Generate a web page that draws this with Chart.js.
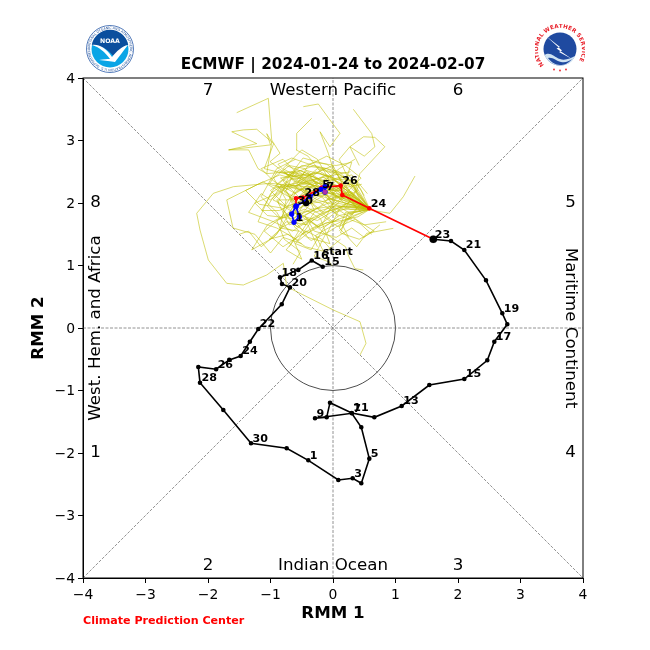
<!DOCTYPE html>
<html>
<head>
<meta charset="utf-8">
<title>ECMWF MJO phase diagram</title>
<script src="https://cdn.jsdelivr.net/npm/chart.js@4"></script>
<style>
  html, body { margin: 0; padding: 0; background: #fff; }
  #wrap { position: relative; width: 650px; height: 650px; }
  #logo_noaa, #logo_nws { position: absolute; top: 24px; width: 50px; height: 50px; }
  #logo_noaa { left: 85px; }
  #logo_nws { left: 535px; }
</style>
</head>
<body>
<div id="wrap">
  <canvas id="mjo_chart" width="650" height="650"></canvas>

  <svg id="logo_noaa" viewBox="0 0 50 50">
    <defs><path id="noaa_ring" d="M25 25 m-20 0 a20 20 0 1 1 40 0 a20 20 0 1 1 -40 0"/></defs>
    <circle cx="25" cy="25" r="23.5" fill="#fff" stroke="#2a5aa8" stroke-width="0.8"/>
    <text font-family="DejaVu Sans" font-size="3.3" fill="#1f4f9a"><textPath href="#noaa_ring">NATIONAL OCEANIC AND ATMOSPHERIC ADMINISTRATION U.S. DEPARTMENT OF COMMERCE</textPath></text>
    <circle cx="25" cy="25" r="18.5" fill="#0aa5e6"/>
    <path d="M6.8 21 A18.5 18.5 0 0 1 43.2 21 C38 22 33 27 29 33 C26 29 23 26 19 24 C14 22 10 21 6.8 21Z" fill="#0b4f9e"/>
    <path d="M7 21 C14 20 21 24 27 33 C32 27 37 22 43 21 C38 27 34 33 30 38 C26 37 20 37 14 36 C19 35 22 35 25 35 C20 28 14 23 7 21Z" fill="#fff"/>
    <text x="25" y="19" text-anchor="middle" font-family="DejaVu Sans" font-weight="bold" font-size="6.2" fill="#fff">NOAA</text>
  </svg>

  <svg id="logo_nws" viewBox="0 0 50 50">
    <defs><path id="nws_ring" d="M9 41 A22 22 0 1 1 41 41"/></defs>
    <circle cx="25" cy="25" r="24.5" fill="#fff"/>
    <text font-family="DejaVu Sans" font-weight="bold" font-size="5.6" letter-spacing="0.15" fill="#e8202a"><textPath href="#nws_ring" startOffset="0">NATIONAL WEATHER SERVICE</textPath></text>
    <circle cx="25" cy="25" r="16.5" fill="#1f4aa0"/>
    <path d="M11 12 L25 23 L21.5 24.5 L37 35 L24 28 L27 26.5 Z" fill="#fff"/>
    <path d="M9.5 31 C15 27 19 33 25 35 C30 37 36 34 40 32 C37 39 31 42 25 41.5 C18 41.5 12 37 9.5 31Z" fill="#cfe3f2"/>
    <path d="M13 34 C18 33 21 37 26 38 C31 39 34 37 37 35 C33 40 29 41 25 41 C20 41 16 38 13 34Z" fill="#1f4aa0"/>
    <circle cx="19" cy="45.5" r="0.9" fill="#e8202a"/><circle cx="25" cy="46.5" r="0.9" fill="#e8202a"/><circle cx="31" cy="45.5" r="0.9" fill="#e8202a"/>
  </svg>
</div>

<script>
///////////   VARIABLES  /////////////////

const chart_title = "ECMWF | 2024-01-24 to 2024-02-07";
const tick_values = [-4, -3, -2, -1, 0, 1, 2, 3, 4];

// observed track, 15 Dec to 23 Jan
const obs_x = [-0.165,-0.34,-0.555,-0.848,-0.816,-0.688,-0.82,-1.195,-1.33,-1.477,-1.66,-1.87,-2.155,-2.128,-1.755,-1.312,-0.741,-0.395,0.085,0.315,0.453,0.581,0.453,0.3,-0.288,-0.101,-0.048,0.3,0.661,1.099,1.541,2.101,2.469,2.581,2.789,2.709,2.448,2.101,1.888,1.605];
const obs_y = [0.98,1.08,0.93,0.81,0.704,0.65,0.38,-0.016,-0.22,-0.448,-0.51,-0.66,-0.624,-0.875,-1.312,-1.845,-1.925,-2.117,-2.432,-2.405,-2.485,-2.09,-1.589,-1.365,-1.445,-1.429,-1.195,-1.36,-1.429,-1.248,-0.912,-0.816,-0.517,-0.219,0.059,0.235,0.763,1.248,1.392,1.419];
const obs_labels = ["15","16","","18","","20","","22","","24","","26","","28","","30","","1","","3","","5","","7","9","","","11","","13","","15","","17","","19","","21","","23"];

// forecast ensemble mean, first week red then second week blue
const red_x = [1.605,0.581,0.149,0.123,-0.181,-0.48,-0.592,-0.592];
const red_y = [1.419,1.915,2.128,2.277,2.245,2.085,2.075,1.952];
const red_labels = ["","24","","26","","28","","30"];
const blue_x = [-0.592,-0.661,-0.624,-0.539,-0.592,-0.368,-0.197,-0.128,-0.128];
const blue_y = [1.952,1.824,1.691,1.781,1.941,2.101,2.219,2.261,2.176];
const blue_labels = ["","","1","","","","5","","7"];
const marker_x = [-0.43];
const marker_y = [2.0];
const end_x = [-0.128];
const end_y = [2.176];

// ensemble members
const member01 = [[0.59,1.9],[0.1,2.1],[-0.3,2.25],[-1.008,2.315],[-1.595,2.261],[-1.915,2.155],[-2.181,1.835],[-2.128,1.568],[-1.995,1.088],[-1.701,0.715],[-1.435,0.688],[-1.061,0.848],[-0.795,1.035],[-0.741,0.661],[-0.368,0.475],[0.005,0.288],[0.432,0.101],[0.528,-0.245],[0.432,-0.432]];
const member02 = [[0.59,1.9],[0.05,2.2],[-0.6,2.35],[-1.008,2.661],[-0.848,2.795],[-0.981,3.008],[-1.035,3.675],[-1.541,3.445]];
const member03 = [[0.59,1.9],[0.15,2.3],[-0.2,2.5],[-0.4,2.75],[-0.59,2.85],[-0.581,3.115],[-0.341,3.355]];
const member04 = [[0.59,1.9],[0.2,2.25],[0.0,2.55],[-0.075,2.795],[-0.208,3.141],[-0.048,2.9],[0.112,3.115],[-0.048,3.328],[-0.235,3.584],[-0.475,3.541]];
const member05 = [[0.59,1.9],[0.35,2.2],[0.43,2.47],[0.83,2.9],[0.67,3.05],[0.49,3.06],[0.27,2.9],[0.42,2.6]];
const member06 = [[1.312,2.432],[1.125,2.101],[0.912,1.835],[0.592,1.888],[0.2,2.05],[-0.1,2.3],[-0.4,2.5]];
const member07 = [[0.59,1.9],[0.2,1.85],[0.1,1.6],[0.379,1.301],[0.539,1.515],[0.965,1.595]];
const member08 = [[0.59,1.9],[0.1,1.9],[-0.1,1.5],[0.2,1.3],[0.25,1.15],[0.35,0.95],[0.485,0.928]];
const member09 = [[0.59,1.9],[0.0,2.05],[-0.5,2.4],[-1.1,2.55],[-0.95,2.95],[-1.22,3.18],[-1.43,3.17],[-1.62,3.14],[-1.22,2.95],[-1.67,2.85],[-1.35,2.85],[-1.2,2.55],[-1.06,2.47]];
const member10 = [[0.59,1.9],[0.05,2.0],[-0.35,2.3],[-0.85,2.45],[-1.2,2.3],[-1.7,2.05],[-1.6,1.6],[-1.25,1.5],[-1.0,1.2],[-0.8,1.45],[-0.5,1.35]];
const member11 = [[0.59,1.9],[0.15,1.95],[-0.25,1.8],[-0.65,1.55],[-0.95,1.7],[-1.35,1.85],[-1.15,2.15],[-1.0,2.05],[-0.7,2.3],[-0.3,2.15]];
const member12 = [[0.59,1.9],[0.2,2.35],[0.3,2.65],[0.05,2.6],[-0.3,2.65],[-0.6,2.55],[-0.75,2.2],[-0.55,1.85],[-0.2,1.6],[0.1,1.75]];
const member13 = [[0.59,1.9],[0.1,2.2],[-0.25,2.1],[-0.55,1.9],[-0.85,1.75],[-1.05,1.95],[-0.85,2.25],[-0.45,2.3],[-0.1,2.45],[0.25,2.3]];
const member14 = [[0.59,1.9],[0.25,2.15],[-0.05,1.95],[-0.35,1.7],[-0.6,1.35],[-0.35,1.25],[-0.15,1.6],[0.1,1.8],[0.5,1.65],[0.85,1.7]];
const member15 = [[0.59,1.9],[0.3,2.05],[0.05,2.35],[-0.2,2.2],[-0.45,2.55],[-0.7,2.6],[-0.95,2.4],[-0.75,2.05],[-0.85,1.6],[-0.55,1.55],[-0.7,1.3]];
const member16 = [[0.59,1.9],[0.2,1.95],[-0.15,1.85],[-0.4,2.05],[-0.75,1.95],[-1.0,2.2],[-0.7,2.45],[-0.3,2.6],[0.1,2.5],[0.4,2.2],[0.1,2.05]];
const member17 = [[0.59,1.9],[0.35,1.85],[0.0,1.7],[-0.3,1.95],[-0.5,2.2],[-0.85,2.3],[-0.6,2.0],[-0.9,1.5],[-1.15,1.3],[-1.35,1.55],[-1.5,1.5]];
const member18 = [[0.59,1.9],[0.12,2.28],[-0.15,2.55],[-0.45,2.35],[-0.8,2.55],[-0.5,2.85],[-0.25,2.7],[-0.05,2.35],[0.3,2.45],[0.55,2.15]];
const member19 = [[0.59,1.9],[0.3,1.95],[0.05,1.85],[-0.1,2.15],[-0.35,2.0],[-0.6,1.7],[-0.4,1.45],[-0.05,1.35],[-0.2,1.75],[-0.45,1.9],[-0.75,1.8]];
const member20 = [[0.59,1.9],[0.18,2.15],[-0.1,2.4],[-0.5,2.15],[-0.7,1.85],[-1.05,1.65],[-1.3,1.25],[-0.95,1.45],[-0.75,1.7],[-0.4,1.65],[-0.25,1.3]];
const member21 = [[0.59,1.9],[0.28,2.3],[0.0,2.2],[-0.3,2.35],[-0.6,2.15],[-0.95,2.35],[-1.15,2.55],[-0.8,2.7],[-0.55,2.45],[-0.2,2.3],[0.1,2.55],[0.35,2.7]];
const member22 = [[0.59,1.9],[0.1,1.8],[-0.2,2.0],[-0.55,2.1],[-0.8,2.35],[-0.5,2.6],[-0.1,2.55],[0.3,2.35],[0.45,2.0],[0.15,1.65],[0.25,1.45]];
const member23 = [[0.59,1.9],[0.25,1.75],[-0.05,1.55],[-0.35,1.4],[-0.6,1.6],[-0.8,1.9],[-0.55,2.3],[-0.25,2.4],[0.05,2.1],[-0.15,1.7],[-0.5,1.5]];
const member24 = [[0.59,1.9],[0.15,2.05],[-0.2,2.3],[-0.55,2.5],[-0.9,2.15],[-1.25,2.0],[-1.05,1.8],[-0.65,1.75],[-0.35,1.9],[0.0,1.95],[0.3,1.75]];
const member25 = [[0.59,1.9],[0.32,2.12],[0.08,2.45],[-0.25,2.55],[-0.55,2.3],[-0.35,2.05],[-0.65,1.95],[-0.45,1.65],[-0.1,1.85],[0.2,2.1],[0.45,1.85]];
const member26 = [[0.59,1.9],[0.05,1.95],[-0.3,1.85],[-0.5,1.55],[-0.75,1.25],[-0.5,1.1],[-0.65,1.45],[-0.9,1.85],[-1.15,2.1],[-0.9,2.55],[-0.6,2.7]];
const member27 = [[0.59,1.9],[0.22,2.08],[-0.12,2.12],[-0.42,2.28],[-0.7,2.1],[-0.55,1.75],[-0.2,1.95],[0.15,2.3],[0.0,2.6],[-0.35,2.45],[-0.75,2.6]];
const member28 = [[0.59,1.9],[0.38,2.0],[0.12,2.1],[-0.18,1.95],[-0.45,1.8],[-0.3,1.55],[0.05,1.45],[0.3,1.6],[0.5,1.45],[0.75,1.65]];
const member29 = [[0.59,1.9],[0.14,2.2],[-0.15,2.2],[-0.38,2.42],[-0.68,2.38],[-1.0,2.15],[-1.2,1.7],[-0.9,1.6],[-0.55,1.4],[-0.3,1.6],[-0.05,1.7]];
const member30 = [[0.59,1.9],[0.33,1.8],[0.08,1.95],[-0.25,2.05],[-0.6,2.25],[-0.4,2.6],[-0.1,2.75],[0.2,2.6],[0.45,2.4],[0.2,2.15],[-0.1,2.05]];
const member31 = [[0.59,1.9],[0.24,2.2],[0.02,2.3],[-0.32,2.2],[-0.62,2.05],[-0.9,2.05],[-0.7,1.65],[-0.4,1.75],[-0.12,1.5],[-0.3,1.15],[-0.05,1.05]];
const member32 = [[0.59,1.9],[0.18,2.0],[-0.08,2.25],[-0.36,2.12],[-0.52,1.92],[-0.78,2.18],[-0.42,2.52],[-0.05,2.42],[0.22,2.2],[0.38,1.9],[0.1,1.55]];
const member33 = [[0.59,1.9],[0.42,2.15],[0.18,2.4],[-0.1,2.62],[-0.48,2.72],[-0.72,2.4],[-0.88,2.0],[-0.58,1.82],[-0.25,1.72],[0.02,1.88],[0.32,2.05]];
const member34 = [[0.59,1.9],[0.28,1.9],[-0.02,2.0],[-0.28,2.28],[-0.58,2.2],[-0.82,1.78],[-1.1,1.55],[-0.8,1.3],[-0.42,1.55],[-0.18,1.42],[0.02,1.2]];
const member35 = [[0.59,1.9],[0.36,2.28],[0.1,2.32],[-0.22,2.48],[-0.62,2.42],[-0.88,2.52],[-1.02,2.3],[-0.72,2.22],[-0.38,2.36],[-0.02,2.44],[0.28,2.5]];
const member36 = [[0.59,1.9],[0.4,2.05],[0.16,2.18],[-0.14,2.36],[-0.46,2.46],[-0.84,2.4],[-0.66,2.28],[-0.28,2.5],[0.06,2.38],[0.36,2.36],[0.5,2.12]];
const member37 = [[0.59,1.9],[0.34,1.96],[0.12,2.02],[-0.1,2.08],[-0.4,2.18],[-0.72,2.28],[-0.96,2.05],[-0.7,1.92],[-0.42,2.08],[-0.12,2.18],[0.22,2.02]];
const member38 = [[0.59,1.9],[0.3,2.18],[0.04,2.12],[-0.26,2.26],[-0.52,2.38],[-0.78,2.48],[-0.52,2.52],[-0.16,2.34],[0.14,2.42],[0.42,2.28],[0.2,1.92]];
const member39 = [[0.59,1.9],[0.42,1.9],[0.2,2.1],[-0.06,2.3],[-0.34,2.32],[-0.66,2.5],[-0.92,2.28],[-0.6,2.08],[-0.24,2.24],[0.1,2.28],[0.34,2.12]];
const member40 = [[0.59,1.9],[0.26,2.02],[0.0,1.82],[-0.24,1.62],[-0.5,1.78],[-0.8,1.62],[-1.02,1.42],[-0.72,1.5],[-0.44,1.3],[-0.12,1.22],[0.12,1.42]];
const member41 = [[0.59,1.9],[0.4,1.78],[0.14,1.72],[-0.12,1.68],[-0.4,1.52],[-0.66,1.68],[-0.48,1.96],[-0.2,1.82],[0.08,1.62],[0.36,1.74],[0.62,1.5]];
const member42 = [[0.59,1.9],[0.16,2.12],[-0.18,2.02],[-0.46,1.98],[-0.74,2.12],[-1.12,2.34],[-1.4,2.2],[-1.18,1.98],[-0.82,1.92],[-0.58,1.62],[-0.3,1.78]];
const member43 = [[0.59,1.9],[0.44,2.22],[0.22,2.48],[-0.04,2.5],[-0.38,2.62],[-0.66,2.72],[-0.88,2.62],[-0.62,2.34],[-0.3,2.28],[0.06,2.22],[0.46,2.3]];
const member44 = [[0.59,1.9],[0.36,2.08],[0.08,2.26],[-0.2,2.14],[-0.5,2.04],[-0.86,1.88],[-1.14,1.88],[-0.94,2.24],[-0.6,2.32],[-0.16,2.08],[0.08,1.78]];
const member45 = [[0.59,1.9],[0.32,2.02],[0.1,2.22],[-0.16,2.42],[-0.44,2.2],[-0.3,1.88],[-0.6,1.84],[-0.9,1.72],[-0.78,1.42],[-0.52,1.22],[-0.64,1.02]];
const member46 = [[0.59,1.9],[0.25,2.38],[0.1,2.7],[0.27,2.9],[0.5,2.75],[0.67,2.9],[0.62,3.11],[0.325,3.5]];
const member47 = [[0.59,1.9],[0.3,2.12],[-0.02,2.16],[-0.3,2.42],[-0.7,2.5],[-1.06,2.47],[-0.98,2.98],[-1.06,3.11],[-1.0,2.93],[-1.67,2.85]];
const member48 = [[0.59,1.9],[0.24,1.84],[0.12,1.52],[0.42,1.42],[0.66,1.55],[0.3,1.78],[-0.04,1.62],[-0.28,1.48],[-0.1,1.12],[-0.02,1.0]];
const ensemble_members = [member01,member02,member03,member04,member05,member06,member07,member08,member09,member10,member11,member12,member13,member14,member15,member16,member17,member18,member19,member20,member21,member22,member23,member24,member25,member26,member27,member28,member29,member30,member31,member32,member33,member34,member35,member36,member37,member38,member39,member40,member41,member42,member43,member44,member45,member46,member47,member48];

// phase numbers and region names, at data coordinates
const phase_names = ["1","2","3","4","5","6","7","8"];
const phase_x = [-3.8,-2,2,3.8,3.8,2,-2,-3.8];
const phase_y = [-2,-3.8,-3.8,-2,2,3.8,3.8,2];

const diagonal_a = [[-4,-4],[4,4]];
const diagonal_b = [[-4,4],[4,-4]];
const axis_h = [[-4,0],[4,0]];
const axis_v = [[0,-4],[0,4]];


///////////   HELPERS  /////////////////

function toPoints(xs, ys) {
  return xs.map((x, i) => ({ x: x, y: ys[i] }));
}

function pairsToPoints(pairs) {
  return pairs.map(p => ({ x: p[0], y: p[1] }));
}

function guideLine(pairs) {
  return {
    data: pairsToPoints(pairs),
    showLine: true,
    borderColor: "#777",
    borderWidth: 0.8,
    borderDash: [3, 1.5],
    pointRadius: 0,
    order: 10
  };
}

function fmtTick(v) {
  return v < 0 ? "\u2212" + Math.abs(v) : String(v);
}


///////////   PLUGIN: circle, frame, texts  /////////////////

const mjoDecor = {
  id: "mjoDecor",
  beforeDatasetsDraw(chart) {
    const { ctx, scales: { x, y } } = chart;
    const cx = x.getPixelForValue(0);
    const cy = y.getPixelForValue(0);
    const r = x.getPixelForValue(1) - cx;
    ctx.save();
    ctx.strokeStyle = "#000";
    ctx.lineWidth = 0.7;
    ctx.beginPath();
    ctx.arc(cx, cy, r, 0, Math.PI * 2);
    ctx.stroke();
    ctx.restore();
  },
  afterDraw(chart) {
    const { ctx, chartArea: a, scales: { x, y } } = chart;
    ctx.save();

    // frame
    ctx.strokeStyle = "#000";
    ctx.lineWidth = 1;
    ctx.strokeRect(a.left, a.top, a.right - a.left, a.bottom - a.top);

    // phases
    ctx.fillStyle = "#000";
    ctx.font = "16.67px 'DejaVu Sans'";
    ctx.textAlign = "center";
    ctx.textBaseline = "middle";
    phase_names.forEach((name, i) => {
      ctx.fillText(name, x.getPixelForValue(phase_x[i]), y.getPixelForValue(phase_y[i]));
    });
    ctx.fillText("Western Pacific", x.getPixelForValue(0), y.getPixelForValue(3.8));
    ctx.fillText("Indian Ocean", x.getPixelForValue(0), y.getPixelForValue(-3.8));

    ctx.save();
    ctx.translate(x.getPixelForValue(-3.8), y.getPixelForValue(0));
    ctx.rotate(-Math.PI / 2);
    ctx.fillText("West. Hem. and Africa", 0, 0);
    ctx.restore();

    ctx.save();
    ctx.translate(x.getPixelForValue(3.8), y.getPixelForValue(0));
    ctx.rotate(Math.PI / 2);
    ctx.fillText("Maritime Continent", 0, 0);
    ctx.restore();

    // day labels
    ctx.font = "bold 11.1px 'DejaVu Sans'";
    ctx.textAlign = "left";
    const putLabels = (xs, ys, labels) => {
      labels.forEach((txt, i) => {
        if (txt) ctx.fillText(txt, x.getPixelForValue(xs[i]) + 1.5, y.getPixelForValue(ys[i]) - 4.5);
      });
    };
    putLabels(obs_x, obs_y, obs_labels);
    putLabels(red_x, red_y, red_labels);
    putLabels(blue_x, blue_y, blue_labels);
    ctx.fillText("start", x.getPixelForValue(obs_x[0]), y.getPixelForValue(obs_y[0]) - 15);

    // credit line
    ctx.fillStyle = "#ff0000";
    ctx.fillText("Climate Prediction Center", a.left, 621);

    ctx.restore();
  }
};


////////////// MJO CHART /////////////

const datasets = [
  guideLine(diagonal_a),
  guideLine(diagonal_b),
  guideLine(axis_h),
  guideLine(axis_v)
];

ensemble_members.forEach(m => {
  datasets.push({
    data: pairsToPoints(m),
    showLine: true,
    borderColor: "rgba(191,191,0,0.8)",
    borderWidth: 0.7,
    pointRadius: 0,
    order: 8
  });
});

datasets.push({
  data: toPoints(obs_x, obs_y),
  showLine: true,
  borderColor: "#000",
  backgroundColor: "#000",
  borderWidth: 1.6,
  pointRadius: 1.5,
  order: 5
});
datasets.push({
  data: toPoints(red_x, red_y),
  showLine: true,
  borderColor: "#ff0000",
  backgroundColor: "#ff0000",
  borderWidth: 1.7,
  pointRadius: 1.5,
  order: 4
});
datasets.push({
  data: toPoints(marker_x, marker_y),
  backgroundColor: "#000",
  pointRadius: 3.2,
  order: 3
});
datasets.push({
  data: toPoints(blue_x, blue_y),
  showLine: true,
  borderColor: "#0000ff",
  backgroundColor: "#0000ff",
  borderWidth: 1.7,
  pointRadius: 1.8,
  order: 2
});
datasets.push({
  data: toPoints(end_x, end_y),
  backgroundColor: "#b030b0",
  pointStyle: "rect",
  pointRadius: 3,
  order: 1
});
datasets.push({
  data: toPoints(obs_x.slice(-1), obs_y.slice(-1)),
  backgroundColor: "#000",
  pointRadius: 3.8,
  order: 0
});

new Chart(document.querySelector("#mjo_chart"), {
  type: "scatter",
  data: { datasets: datasets },
  plugins: [mjoDecor],
  options: {
    responsive: false,
    animation: false,
    layout: { padding: { left: 29, right: 67, top: 0, bottom: 26 } },
    plugins: {
      legend: { display: false },
      tooltip: { enabled: false },
      title: {
        display: true,
        text: chart_title,
        fullSize: false,
        color: "#000",
        font: { family: "'DejaVu Sans'", size: 15.3, weight: "bold", lineHeight: 1.2 },
        padding: { top: 55.8, bottom: 3.84 }
      }
    },
    scales: {
      x: {
        type: "linear",
        min: -4,
        max: 4,
        afterBuildTicks: axis => { axis.ticks = tick_values.map(v => ({ value: v })); },
        afterFit: axis => { axis.height = 46; },
        grid: { drawOnChartArea: false, tickLength: 5, tickColor: "#000", drawTicks: true },
        border: { color: "#000" },
        ticks: { color: "#000", maxRotation: 0, padding: 4, font: { family: "'DejaVu Sans'", size: 13.9 }, callback: fmtTick },
        title: { display: true, text: "RMM 1", color: "#000", padding: 0, font: { family: "'DejaVu Sans'", size: 16.67, weight: "bold" } }
      },
      y: {
        type: "linear",
        min: -4,
        max: 4,
        afterBuildTicks: axis => { axis.ticks = tick_values.map(v => ({ value: v })); },
        afterFit: axis => { axis.width = 54; },
        grid: { drawOnChartArea: false, tickLength: 5, tickColor: "#000", drawTicks: true },
        border: { color: "#000" },
        ticks: { color: "#000", padding: 3, labelOffset: 1, font: { family: "'DejaVu Sans'", size: 13.9 }, callback: fmtTick },
        title: { display: true, text: "RMM 2", color: "#000", padding: 0, font: { family: "'DejaVu Sans'", size: 16.67, weight: "bold" } }
      }
    }
  }
});
</script>
</body>
</html>
